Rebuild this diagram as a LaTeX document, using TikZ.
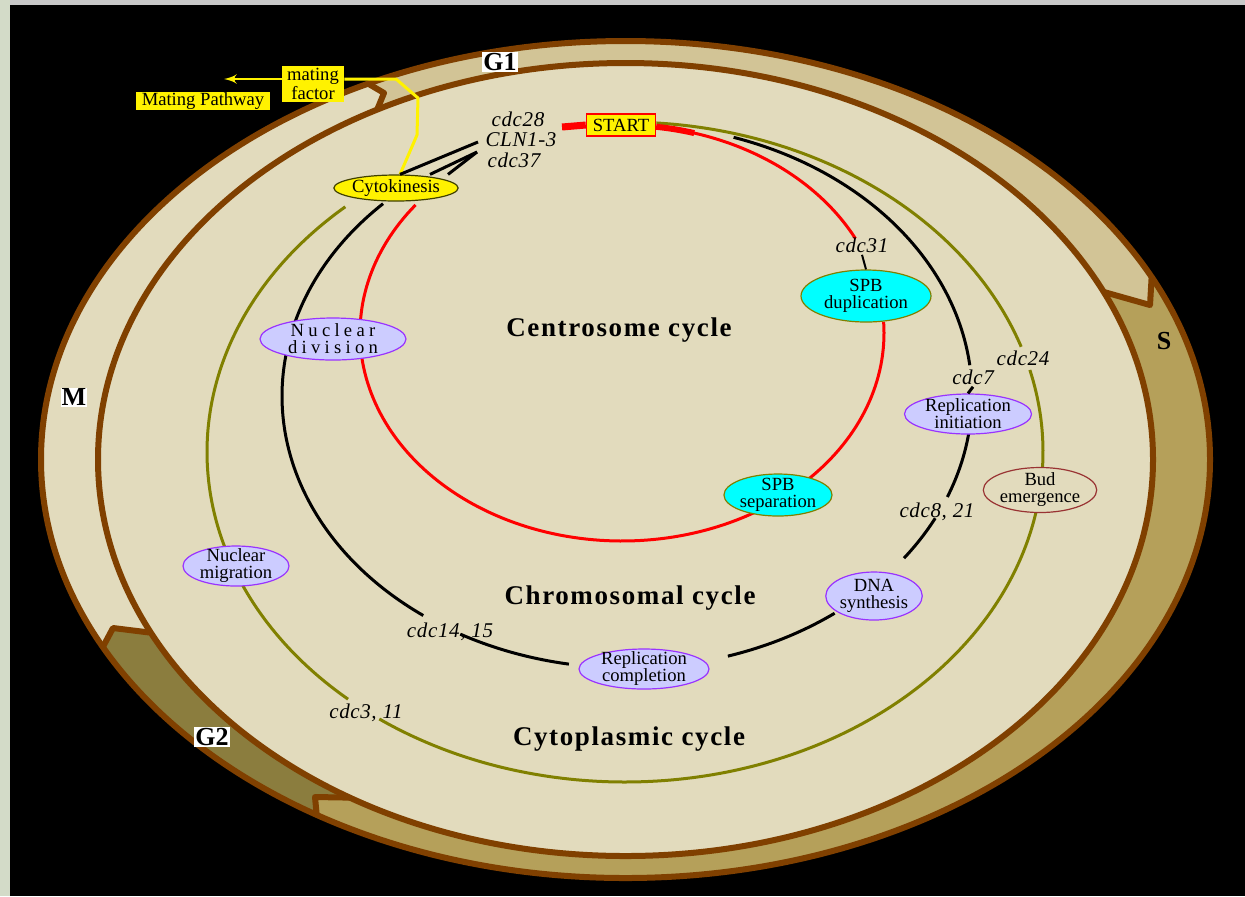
\documentclass[tikz,border=0pt]{standalone}
\usepackage{fontspec}
\setmainfont{Liberation Serif}
\usetikzlibrary{shapes.geometric, arrows}
\definecolor{bandbrown}{RGB}{128,64,0}
\definecolor{cellbg}{RGB}{226,219,189}
\definecolor{gonecol}{RGB}{210,196,150}
\definecolor{scol}{RGB}{181,160,90}
\definecolor{gtwocol}{RGB}{139,125,62}
\definecolor{ringolive}{RGB}{128,128,0}
\definecolor{spbcyan}{RGB}{0,255,255}
\definecolor{lavender}{RGB}{204,204,255}
\definecolor{lavborder}{RGB}{153,51,255}
\definecolor{budborder}{RGB}{153,51,51}
\definecolor{cytborder}{RGB}{64,64,0}
\definecolor{topstrip}{RGB}{200,200,200}
\definecolor{leftstrip}{RGB}{211,219,200}
\tikzset{
    	every node/.append style={font=\fontsize{9.3}{8.5}\selectfont}}
\newcommand{\ringplot}[6]{plot[domain=#5:#6,samples=150] ({#1+#3*cos(\x)},{#2+#4*sin(\x)})}

\begin{document}
\begin{tikzpicture}
  [x=0.5pt, y=-0.5pt, >=latex',
  	phase/.style={ellipse, align=center, inner xsep=0pt, inner ysep=-2pt},
  	spb/.style={phase, fill=spbcyan, draw=ringolive, line width=0.6pt},
  	chrom/.style={phase, fill=lavender, draw=lavborder, line width=0.6pt},
  	gene/.style={inner sep=1pt, font=\fontsize{10.5}{12}\selectfont\itshape\addfontfeature{LetterSpace=3}},
  	cyclename/.style={font=\fontsize{13.5}{15}\selectfont\bfseries\addfontfeature{LetterSpace=6}},
  	phasename/.style={inner sep=0.5pt, font=\fontsize{13}{14}\selectfont\bfseries},
  	ring/.style={line width=1.5pt},
  	band/.style={draw=bandbrown, line width=3pt, line join=round}
  ]
  \useasboundingbox (0,0) rectangle (1245,896);
  \fill[black] (0,0) rectangle (1245,896);
  \fill[topstrip] (0,0) rectangle (1245,5);
  \fill[leftstrip] (0,0) rectangle (10,896);

  % cell and phase band
  \fill[cellbg] (625.5,459.5) ellipse [x radius=584.5, y radius=418.5];
  \fill[gonecol] \ringplot{625.5}{459.5}{584.5}{418.5}{243.9}{334.2} -- (1150,305)
    -- plot[domain=335:241.9,samples=150] ({625.5+527.5*cos(\x)},{459.5+396.5*sin(\x)}) -- (384,93) -- cycle;
  \fill[scol] \ringplot{625.5}{459.5}{584.5}{418.5}{-25.8}{121.9} -- (315,797)
    -- plot[domain=121.5:-25,samples=150] ({625.5+527.5*cos(\x)},{459.5+396.5*sin(\x)}) -- (1150,305) -- cycle;
  \fill[gtwocol] \ringplot{625.5}{459.5}{584.5}{418.5}{121.9}{153.4} -- (113,628)
    -- plot[domain=154.1:121.5,samples=60] ({625.5+527.5*cos(\x)},{459.5+396.5*sin(\x)}) -- (315,797) -- cycle;
  \draw[band] (625.5,459.5) ellipse [x radius=584.5, y radius=418.5];
  \draw[band] (625.5,459.5) ellipse [x radius=527.5, y radius=396.5];
  \draw[band] (368.3,83.7) -- (384,93) -- (377.1,109.8);
  \draw[band] (1151.6,277.4) -- (1150,305) -- (1103.6,291.9);
  \draw[band] (349.9,797.6) -- (315,797) -- (316.7,814.9);
  \draw[band] (102.9,646.9) -- (113,628) -- (151,632.7);

  % cytoplasmic cycle
  \draw[ring, ringolive] \ringplot{625}{452}{418}{330}{-85.7}{-18.6};
  \draw[ring, ringolive] \ringplot{625}{452}{418}{330}{-14.4}{126};
  \draw[ring, ringolive] \ringplot{625}{452}{418}{330}{131.5}{228};
  % chromosomal cycle
  \draw[ring] \ringplot{627}{396}{345}{272}{-72}{-6.5};
  \draw[ring] \ringplot{627}{396}{345}{272}{3}{21.8};
  \draw[ring] \ringplot{627}{396}{345}{272}{26.7}{36.6};
  \draw[ring] \ringplot{627}{396}{345}{272}{53}{73};
  \draw[ring] \ringplot{627}{396}{345}{272}{99.7}{118.9};
  \draw[ring] \ringplot{627}{396}{345}{272}{126.2}{225};
  % centrosome cycle
  \draw[ring, red] \ringplot{622}{333}{262}{208}{-82.5}{-27};
  \draw[ring, red] \ringplot{622}{333}{262}{208}{-3}{218};
  \draw[red, line width=3pt] \ringplot{622}{333}{262}{208}{-82.5}{-74};

  \node [fill=yellow, align=center, inner sep=1pt, minimum width=31pt, minimum height=17pt] (matfac) at (313,84) {mating\\factor};
  \node [fill=yellow, inner xsep=1pt, inner ysep=0pt, minimum width=67pt, minimum height=9pt] (matpath) at (203,101) {Mating Pathway};
  \node [fill=yellow, draw=red, line width=0.75pt, inner sep=1pt, minimum width=34.5pt, minimum height=11pt] (start) at (621,125) {START};
  \node [phase, fill=yellow, draw=cytborder, line width=0.6pt, minimum width=60pt, minimum height=13pt] (cytok) at (396,188) {Cytokinesis};
  \node [gene] (cdctwentyeight) at (518,119) {cdc28};
  \node [gene] (clnthree) at (521,140) {CLN1-3};
  \node [gene] (cdcthirtyseven) at (514,160) {cdc37};
  \node [gene] (cdcthirtyone) at (862,245) {cdc31};
  \node [spb, minimum width=65pt, minimum height=26pt] (spbdup) at (866,296) {SPB\\duplication};
  \node [cyclename] (centro) at (619,330) {Centrosome cycle};
  \node [chrom, minimum width=73pt, minimum height=21pt, font=\fontsize{9.3}{8.5}\selectfont\addfontfeature{LetterSpace=23}] (nucdiv) at (333,339) {Nuclear\\division};
  \node [gene] (cdctwentyfour) at (1023,358) {cdc24};
  \node [gene] (cdcseven) at (973,377) {cdc7};
  \node [chrom, minimum width=63.5pt, minimum height=20pt] (repinit) at (968,414) {Replication\\initiation};
  \node [phase, fill=cellbg, draw=budborder, line width=0.6pt, minimum width=55.5pt, minimum height=22.5pt] (bud) at (1040,490) {Bud\\emergence};
  \node [spb, minimum width=48.5pt, minimum height=21pt] (spbsep) at (778,495) {SPB\\separation};
  \node [gene] (cdceight) at (937,512) {cdc8, 21};
  \node [chrom, minimum width=53pt, minimum height=20pt] (nucmig) at (236,566) {Nuclear\\migration};
  \node [cyclename] (chromo) at (630,598) {Chromosomal cycle};
  \node [chrom, minimum width=47pt, minimum height=24pt] (dnasyn) at (874,596) {DNA\\synthesis};
  \node [gene] (cdcfourteen) at (450,632) {cdc14, 15};
  \node [chrom, minimum width=65pt, minimum height=20pt] (repcomp) at (644,669) {Replication\\completion};
  \node [gene] (cdcthree) at (366,713) {cdc3, 11};
  \node [cyclename] (cytoname) at (629,739) {Cytoplasmic cycle};
  \node [phasename, fill=white] (gone) at (500,62) {G1};
  \node [phasename] (sphase) at (1164,341) {S};
  \node [phasename, fill=white] (mphase) at (74,397) {M};
  \node [phasename, fill=white] (gtwo) at (212,737) {G2};

  \coordinate (mfrow) at (0,79);
  \coordinate (pathtip) at (224,79);
  \coordinate (redtail) at (562,127);
  \coordinate (clntip) at (478,142);
  \coordinate (cdctip) at (477,152);
  \draw [red, line width=3.5pt] (redtail) -- (start.west);
  \draw [->, yellow, line width=1.2pt] (matfac.west |- mfrow) -- (pathtip);
  \draw [yellow, line width=1.5pt, line join=round] (matfac.east |- mfrow) -- (396,79) -- (418,98) -- (417,135) -- ([xshift=2pt]cytok.north);
  \draw [ring] ([xshift=2pt]cytok.north) -- (clntip);
  \draw [ring] ([xshift=17pt]cytok.north) -- (cdctip);
  \draw [ring] ([xshift=26pt]cytok.north) -- (cdctip);
  \draw [line width=1pt] (cdcthirtyone.south) -- (spbdup.north);
  \draw [ring] (cdcseven.south) -- (repinit.north);
\end{tikzpicture}
\end{document}
